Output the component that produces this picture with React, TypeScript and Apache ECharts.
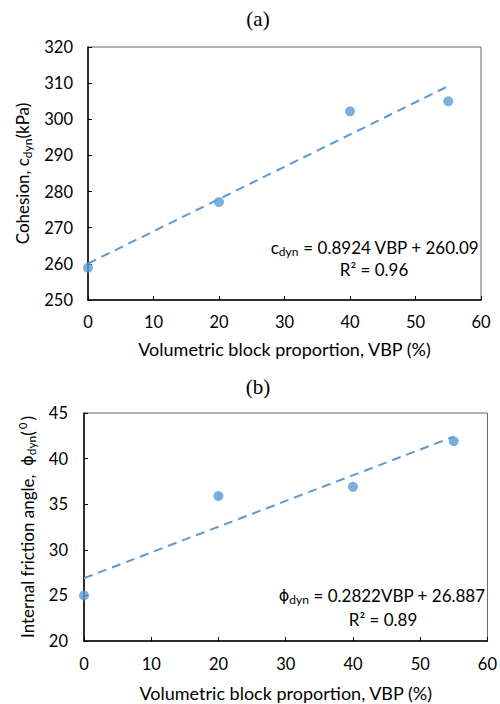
import React, { useEffect, useRef } from "react";
import * as echarts from "echarts";

// Panel (a): cohesion vs VBP
const vbpA = [0, 20, 40, 55];
const cohesion = [258.9, 277.1, 302.2, 305.0];
const trendA = { slope: 0.8924, intercept: 260.09 };
const yTicksA = { min: 250, max: 320, interval: 10 };

// Panel (b): friction angle vs VBP
const vbpB = [0, 20, 40, 55];
const friction = [25.0, 35.9, 36.9, 41.9];
const trendB = { slope: 0.2822, intercept: 26.887 };
const yTicksB = { min: 20, max: 45, interval: 5 };

const xTicks = { min: 0, max: 60, interval: 10 };
const trendRange = [0, 55];

const FONT = "Lato";
const BLUE = "#5B9BD5";

export default function App() {
  const ref = useRef<HTMLDivElement>(null);
  useEffect(() => {
    document.body.style.margin = "0";
    const chart = echarts.init(ref.current!, null, { renderer: "svg" });
    const axisCommon = {
      axisLine: { show: true, lineStyle: { color: "#000", width: 1.5 } },
      axisTick: { show: true, inside: true, length: 4, lineStyle: { color: "#000" } },
      splitLine: { show: false },
    };
    const labelStyle = { fontFamily: FONT, fontSize: 16.5, color: "#000" };
    const sub = { fontFamily: FONT, fontSize: 12, color: "#000", verticalAlign: "bottom" as const, lineHeight: 12 };
    const sup = { fontFamily: FONT, fontSize: 11, color: "#000", verticalAlign: "top" as const, lineHeight: 11 };
    const base = { fontFamily: FONT, fontSize: 17, color: "#000", lineHeight: 21 };
    const phi = { fontFamily: "DejaVu Sans", fontSize: 16, color: "#000", lineHeight: 21 };
    const trendLine = (t: { slope: number; intercept: number }) =>
      trendRange.map((x) => [x, t.slope * x + t.intercept]);

    chart.setOption({
      animation: false,
      grid: [
        { left: 88, right: 19, top: 47, height: 253, show: true, borderColor: "#666", borderWidth: 1 },
        { left: 84, right: 8, top: 413, height: 228, show: true, borderColor: "#666", borderWidth: 1 },
      ],
      xAxis: [
        {
          gridIndex: 0, type: "value", ...xTicks, ...axisCommon,
          axisLabel: { ...labelStyle, margin: 13 },
          name: "Volumetric block proportion, VBP (%)", nameLocation: "middle", nameGap: 38,
          nameTextStyle: { ...base, fontSize: 18 },
        },
        {
          gridIndex: 1, type: "value", ...xTicks, ...axisCommon,
          axisLabel: { ...labelStyle, margin: 14 },
          name: "Volumetric block proportion, VBP (%)", nameLocation: "middle", nameGap: 41,
          nameTextStyle: { ...base, fontSize: 18 },
        },
      ],
      yAxis: [
        {
          gridIndex: 0, type: "value", ...yTicksA, ...axisCommon,
          axisLabel: { ...labelStyle, margin: 15 },
          name: "Cohesion, c{sub|dyn}(kPa)", nameLocation: "middle", nameGap: 53,
          nameTextStyle: { ...base, rich: { sub } },
        },
        {
          gridIndex: 1, type: "value", ...yTicksB, ...axisCommon,
          axisLabel: { ...labelStyle, margin: 16 },
          name: "Internal friction angle,  {phi|ϕ}{sub|dyn}(\u2009{sup|0}\u2009)", nameLocation: "middle", nameGap: 44,
          nameTextStyle: { ...base, rich: { sub, sup, phi } },
        },
      ],
      series: [
        {
          type: "line", xAxisIndex: 0, yAxisIndex: 0, data: trendLine(trendA), symbol: "none",
          lineStyle: { color: BLUE, width: 2, type: [9, 6] }, z: 2,
        },
        {
          type: "scatter", xAxisIndex: 0, yAxisIndex: 0, data: vbpA.map((x, i) => [x, cohesion[i]]),
          symbolSize: 10, itemStyle: { color: BLUE }, z: 3,
        },
        {
          type: "line", xAxisIndex: 1, yAxisIndex: 1, data: trendLine(trendB), symbol: "none",
          lineStyle: { color: BLUE, width: 2, type: [9, 6] }, z: 2,
        },
        {
          type: "scatter", xAxisIndex: 1, yAxisIndex: 1, data: vbpB.map((x, i) => [x, friction[i]]),
          symbolSize: 10, itemStyle: { color: BLUE }, z: 3,
        },
      ],
      graphic: [
        {
          type: "text", x: 258, y: 19,
          style: { text: "(a)", fontFamily: "Liberation Serif", fontSize: 21, fill: "#000", align: "center", verticalAlign: "middle" },
        },
        {
          type: "text", x: 258, y: 387,
          style: { text: "(b)", fontFamily: "Liberation Serif", fontSize: 21, fill: "#000", align: "center", verticalAlign: "middle" },
        },
        {
          type: "text", x: 375, y: 247,
          style: {
            text: "c{sub|dyn} = 0.8924 VBP + 260.09", align: "center", verticalAlign: "middle",
            ...base, fill: "#000", rich: { sub },
          },
        },
        {
          type: "text", x: 374, y: 269,
          style: { text: "R² = 0.96", align: "center", verticalAlign: "middle", ...base, fill: "#000" },
        },
        {
          type: "text", x: 382, y: 595,
          style: {
            text: "{phi|ϕ}{sub|dyn} = 0.2822VBP + 26.887", align: "center", verticalAlign: "middle",
            ...base, fill: "#000", rich: { sub, phi },
          },
        },
        {
          type: "text", x: 383, y: 619,
          style: { text: "R² = 0.89", align: "center", verticalAlign: "middle", ...base, fill: "#000" },
        },
      ],
    });
    return () => chart.dispose();
  }, []);
  return <div ref={ref} style={{ width: 500, height: 704 }} />;
}
